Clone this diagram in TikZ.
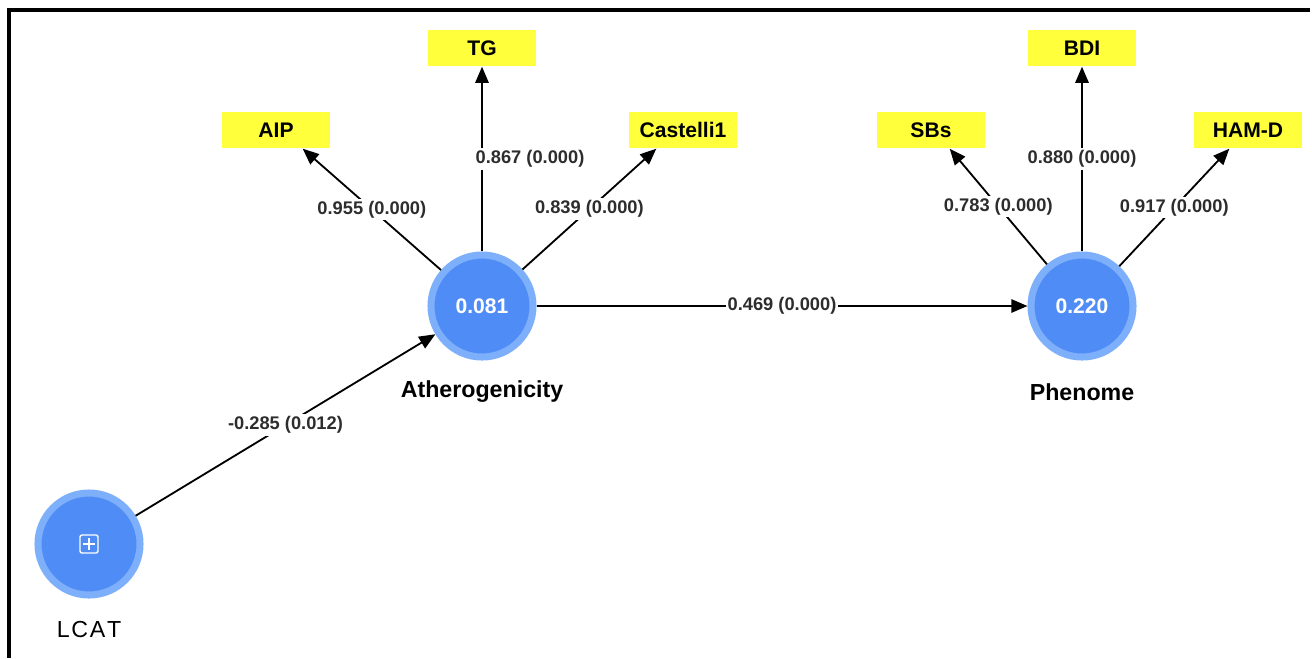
\documentclass[tikz,border=0pt]{standalone}
\usepackage{fontspec}
\setmainfont{Liberation Sans}
\usetikzlibrary{arrows.meta}
\definecolor{plsblue}{RGB}{80, 140, 245}
\definecolor{plsring}{RGB}{125, 175, 250}
\definecolor{plsyellow}{RGB}{255, 255, 60}
\definecolor{plsgray}{RGB}{45, 45, 45}

\tikzset{
  latent/.style={circle,fill=plsblue,draw=plsring,line width=5pt,minimum size=2.55cm,inner sep=0pt,
    text=white,font=\fontsize{15}{18}\selectfont\bfseries},
  latname/.style={font=\fontsize{16.5}{20}\selectfont\bfseries},
  indicator/.style={rectangle,fill=plsyellow,minimum width=2.72cm,minimum height=0.92cm,inner sep=0pt,
    font=\fontsize{15}{18}\selectfont\bfseries},
  link/.style={line width=1.3pt,-{Triangle[length=11.5pt,width=9.5pt]}},
  coef/.style={fill=white,inner sep=1.5pt,text=plsgray,font=\fontsize{13}{15}\selectfont\bfseries}
}

\begin{document}
\begin{tikzpicture}[x=0.025cm,y=-0.025cm]
        \useasboundingbox (0,0) rectangle (1312,658);
        % frame
        \draw[line width=2.4pt] (9,658) -- (9,10) -- (1310,10);

        % latent variables
        \node[latent] (ath) at (482,306) {0.081};
        \node[latent] (phen) at (1082,306) {0.220};
        \node[latent] (lcat) at (89,544) {};
        \draw[white,line width=1pt,rounded corners=1.5pt] (80,535) rectangle (98,553);
        \draw[white,line width=1pt] (89,538) -- (89,550) (83,544) -- (95,544);

        \node[latname] (athname) at (482,392) {Atherogenicity};
        \node[latname] (phenname) at (1082,392) {Phenome};
        \node[font=\fontsize{16.5}{20}\selectfont] (lcatname) at (89,629) {L\kern1.2pt C\kern1.2pt A\kern1.2pt T};

        % indicators
        \node[indicator] (aip) at (276,130) {AIP};
        \node[indicator] (tg) at (482,48) {TG};
        \node[indicator] (cast) at (683,130) {Castelli1};
        \node[indicator] (sbs) at (931,130) {SBs};
        \node[indicator] (bdi) at (1082,48) {BDI};
        \node[indicator] (hamd) at (1248,130) {HAM-D};

        % loadings
        \draw[link] (ath) -- (aip.-35) node[coef,midway] {0.955 (0.000)};
        \draw[link] (ath) -- (tg) node[coef,midway,xshift=1.2cm] {0.867 (0.000)};
        \draw[link] (ath) -- (cast.-145) node[coef,midway] {0.839 (0.000)};
        \draw[link] (phen) -- (sbs.-45) node[coef,midway] {0.783 (0.000)};
        \draw[link] (phen) -- (bdi) node[coef,midway] {0.880 (0.000)};
        \draw[link] (phen) -- (hamd.-135) node[coef,midway] {0.917 (0.000)};

        % paths
        \draw[link] (ath) -- (phen) node[coef,midway] {0.469 (0.000)};
        \draw[link] (lcat) -- (ath) node[coef,midway] {-0.285 (0.012)};
    \end{tikzpicture}
\end{document}
